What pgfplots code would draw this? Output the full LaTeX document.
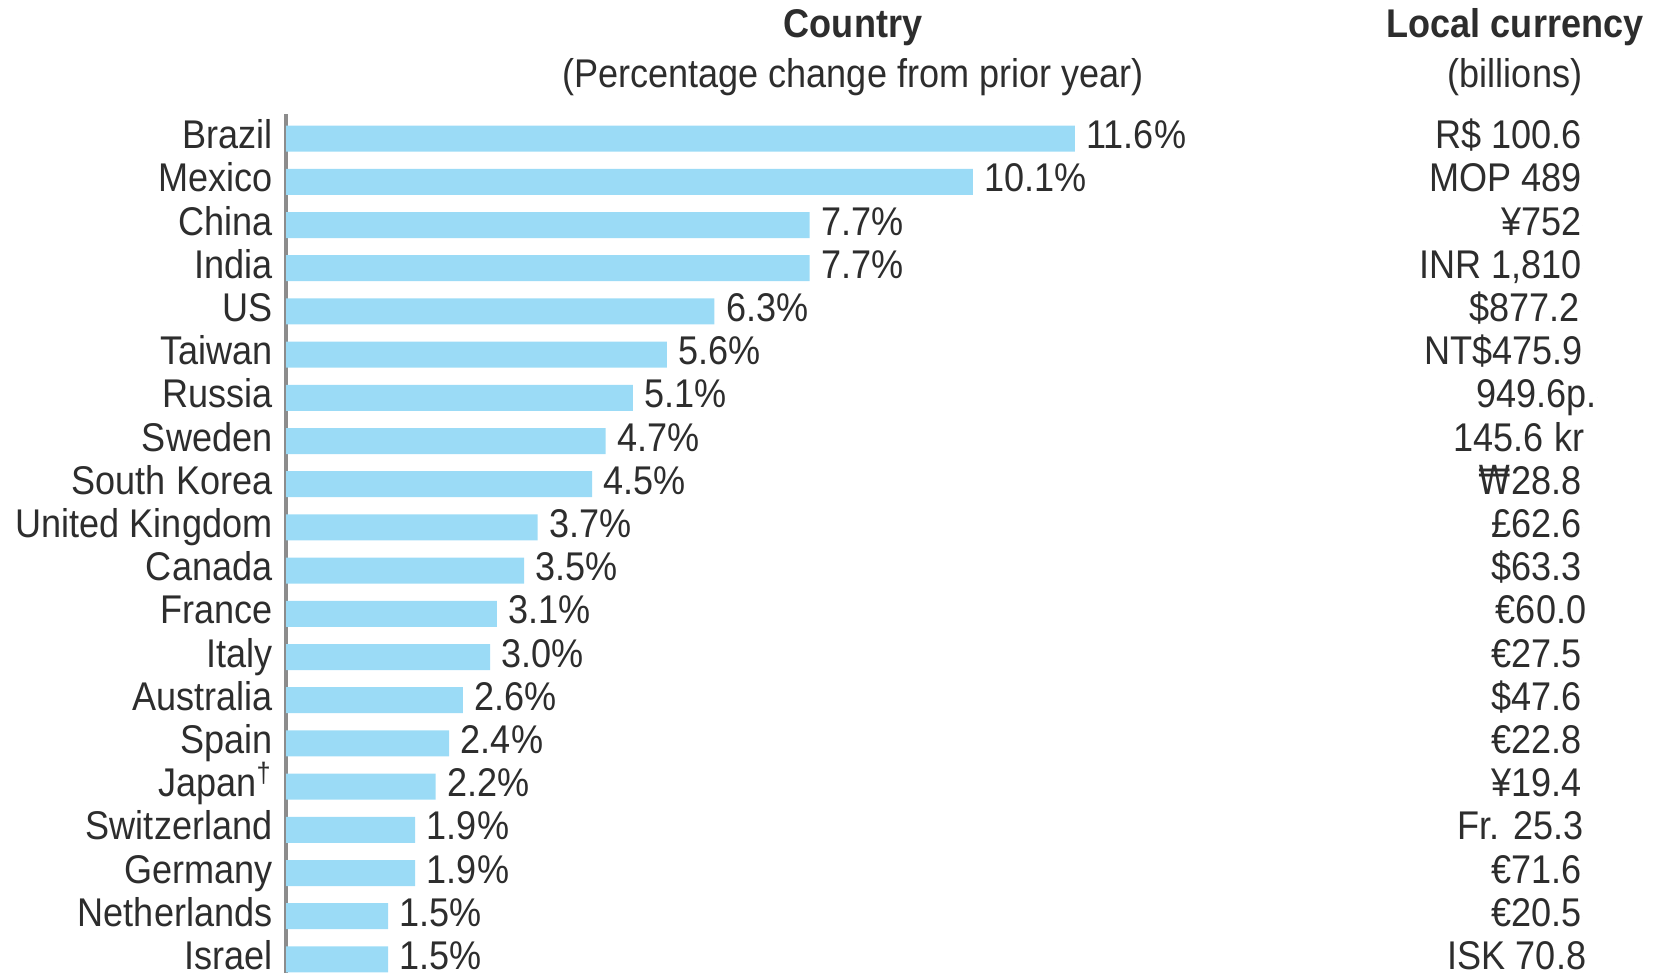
\documentclass[border=0pt]{standalone}
\usepackage{pgfplots}
\pgfplotsset{compat=1.18}
\usepackage{fontspec}
\setmainfont{Liberation Sans}[FakeStretch=0.9]
\newfontfamily\dv{DejaVu Sans}[FakeStretch=0.82]
\definecolor{barblue}{RGB}{155,219,246}
\definecolor{axgray}{RGB}{140,140,140}
\definecolor{txt}{RGB}{45,45,45}
\begin{document}
\fontsize{11.4pt}{13.7pt}\selectfont
\begin{tikzpicture}[every node/.style={text=txt}]
\useasboundingbox (0,0) rectangle (16.61cm,9.72cm);
\node[anchor=base,font=\bfseries] at (8.53cm,9.34cm) {Country};
\node[anchor=base] at (8.53cm,8.84cm) {(Percentage change from prior year)};
\node[anchor=base,font=\bfseries] at (15.15cm,9.34cm) {Local currency};
\node[anchor=base] at (15.15cm,8.84cm) {(billions)};
\begin{axis}[
  at={(2.86cm,8.58cm)}, anchor=north west,
  scale only axis, width=13.4cm, height=8.627cm,
  xmin=0, xmax=19.706,
  ymin=-0.57, ymax=19.4, y dir=reverse,
  clip=false,
  axis x line=none,
  axis y line*=left,
  y axis line style={draw=axgray, line width=0.9pt},
  major tick length=0pt,
  ytick={0,...,19},
  yticklabels={Brazil,Mexico,China,India,US,Taiwan,Russia,Sweden,South Korea,United Kingdom,Canada,France,Italy,Australia,Spain,Japan\textsuperscript{†},Switzerland,Germany,Netherlands,Israel},
  yticklabel style={anchor=base east, inner sep=0pt, xshift=-0.13cm, yshift=-0.1cm, text=txt},
]
\addplot[xbar, bar width=0.26cm, fill=barblue, draw=none,
  nodes near coords, point meta=explicit symbolic,
  nodes near coords style={anchor=base west, inner sep=0pt, xshift=0.11cm, yshift=-0.1cm, text=txt}]
coordinates {
(11.6,0) [11.6\%]
(10.1,1) [10.1\%]
(7.7,2) [7.7\%]
(7.7,3) [7.7\%]
(6.3,4) [6.3\%]
(5.6,5) [5.6\%]
(5.1,6) [5.1\%]
(4.7,7) [4.7\%]
(4.5,8) [4.5\%]
(3.7,9) [3.7\%]
(3.5,10) [3.5\%]
(3.1,11) [3.1\%]
(3.0,12) [3.0\%]
(2.6,13) [2.6\%]
(2.4,14) [2.4\%]
(2.2,15) [2.2\%]
(1.9,16) [1.9\%]
(1.9,17) [1.9\%]
(1.5,18) [1.5\%]
(1.5,19) [1.5\%]
};
\addplot[only marks, mark=*, mark size=0pt, mark options={draw=none,fill=none},
  nodes near coords, point meta=explicit symbolic,
  nodes near coords style={anchor=base east, inner sep=0pt, yshift=-0.1cm, text=txt}]
coordinates {
(19.06,0) [R\$ 100.6]
(19.06,1) [MOP 489]
(19.06,2) [¥752]
(19.06,3) [INR 1,810]
(19.04,4) [\$877.2]
(19.08,5) [NT\$475.9]
(19.28,6) [949.6p.]
(19.10,7) [145.6 kr]
(19.06,8) [{\dv ₩}28.8]
(19.06,9) [£62.6]
(19.06,10) [\$63.3]
(19.13,11) [€60.0]
(19.06,12) [€27.5]
(19.06,13) [\$47.6]
(19.06,14) [€22.8]
(19.06,15) [¥19.4]
(19.09,16) [Fr. 25.3]
(19.06,17) [€71.6]
(19.06,18) [€20.5]
(19.13,19) [ISK 70.8]
};
\end{axis}
\end{tikzpicture}
\end{document}
